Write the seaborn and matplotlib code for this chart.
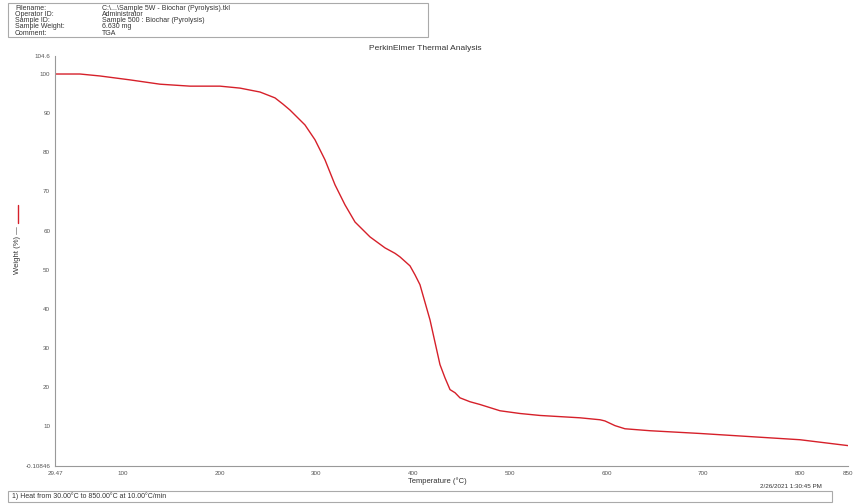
import matplotlib
matplotlib.use("Agg")
import matplotlib.pyplot as plt
from matplotlib.lines import Line2D
from matplotlib.patches import Rectangle
import pandas as pd
import seaborn as sns

# TGA curve: temperature (°C) and remaining weight (%)
temperature = [29.5, 55.3, 76.0, 107.1, 138.1, 169.2, 200.2, 220.9, 231.2, 241.6,
               249.9, 257.1, 265.4, 272.6, 288.1, 298.5, 308.8, 319.2, 329.5, 339.9,
               355.4, 370.9, 381.3, 386.4, 396.8, 402.0, 407.1, 417.5, 427.8, 433.0,
               438.2, 443.4, 448.5, 458.9, 469.2, 489.9, 510.6, 531.3, 552.0, 572.7,
               593.4, 598.5, 603.7, 608.9, 619.2, 645.1, 696.8, 748.6, 800.3, 850.0]
weight = [100.0, 100.0, 99.5, 98.5, 97.4, 96.9, 96.9, 96.4, 95.9, 95.4,
          94.6, 93.9, 92.3, 90.8, 87.0, 83.2, 78.1, 71.7, 66.6, 62.2,
          58.4, 55.6, 54.2, 53.3, 51.0, 48.7, 46.2, 37.2, 25.8, 22.4,
          19.4, 18.6, 17.3, 16.3, 15.6, 14.0, 13.3, 12.8, 12.5, 12.2,
          11.7, 11.4, 10.8, 10.2, 9.4, 8.9, 8.2, 7.4, 6.6, 5.1]

x_ticks = [29.47, 100, 200, 300, 400, 500, 600, 700, 800, 850]
x_tick_labels = ["29.47", "100", "200", "300", "400", "500", "600", "700", "800", "850"]
y_ticks = [-0.10846, 10, 20, 30, 40, 50, 60, 70, 80, 90, 100, 104.6]
y_tick_labels = ["-0.10846", "10", "20", "30", "40", "50", "60", "70", "80", "90", "100", "104.6"]

header_keys = ["Filename:", "Operator ID:", "Sample ID:", "Sample Weight:", "Comment:"]
header_vals = ["C:\\...\\Sample 5W - Biochar (Pyrolysis).tkl", "Administrator",
               "Sample 500 : Biochar (Pyrolysis)", "6.630 mg", "TGA"]

sns.set_style("white")
plt.rcParams["font.family"] = ["Liberation Sans", "DejaVu Sans"]

fig = plt.figure(figsize=(8.54, 5.04), dpi=100)
ax = fig.add_axes([55 / 854, 1 - 466 / 504, 793 / 854, 410 / 504])

df = pd.DataFrame({"Temperature": temperature, "Weight": weight})
sns.lineplot(data=df, x="Temperature", y="Weight", ax=ax, color="#d6202a",
             linewidth=1.0, sort=False)

ax.set_xlim(29.47, 850)
ax.set_ylim(-0.10846, 104.6)
ax.set_xticks(x_ticks)
ax.set_xticklabels(x_tick_labels)
ax.set_yticks(y_ticks)
ax.set_yticklabels(y_tick_labels)
ax.tick_params(axis="both", labelsize=4.5, colors="#555555", length=2, width=0.5,
               direction="out", pad=1.5)
ax.set_xlabel("")
ax.set_ylabel("")
for side in ["top", "right"]:
    ax.spines[side].set_visible(False)
for side in ["left", "bottom"]:
    ax.spines[side].set_color("#999999")
    ax.spines[side].set_linewidth(0.8)

# Axis titles
fig.text(408 / 854, 1 - 481.5 / 504, "Temperature (°C)", fontsize=5.5, color="#333333",
         ha="left", va="center")
fig.text(18 / 854, 1 - 250 / 504, "Weight (%) —", fontsize=5.5, color="#333333",
         rotation=90, ha="center", va="center")
fig.add_artist(Line2D([18 / 854, 18 / 854], [1 - 223 / 504, 1 - 205 / 504],
                      color="#d6202a", linewidth=1.0))

# Chart title
fig.text(425 / 854, 1 - 48 / 504, "PerkinElmer Thermal Analysis", fontsize=6,
         color="#333333", ha="center", va="center")

# Header block with sample information
fig.add_artist(Rectangle((8 / 854, 1 - 37 / 504), 420 / 854, 34 / 504, fill=False,
                         edgecolor="#aaaaaa", linewidth=0.8))
for i, (k, v) in enumerate(zip(header_keys, header_vals)):
    yy = 1 - (8 + i * 6.3) / 504
    fig.text(15 / 854, yy, k, fontsize=5, color="#333333", va="center")
    fig.text(102 / 854, yy, v, fontsize=5, color="#333333", va="center")

# Footer with run conditions and timestamp
fig.text(822 / 854, 1 - 487 / 504, "2/26/2021 1:30:45 PM", fontsize=4.5,
         color="#333333", ha="right", va="center")
fig.add_artist(Rectangle((8 / 854, 1 - 502 / 504), 824 / 854, 11 / 504, fill=False,
                         edgecolor="#aaaaaa", linewidth=0.8))
fig.text(12 / 854, 1 - 496.5 / 504, "1) Heat from 30.00°C to 850.00°C at 10.00°C/min",
         fontsize=5, color="#333333", va="center")

fig.savefig("out.png", dpi=100, facecolor="white")
